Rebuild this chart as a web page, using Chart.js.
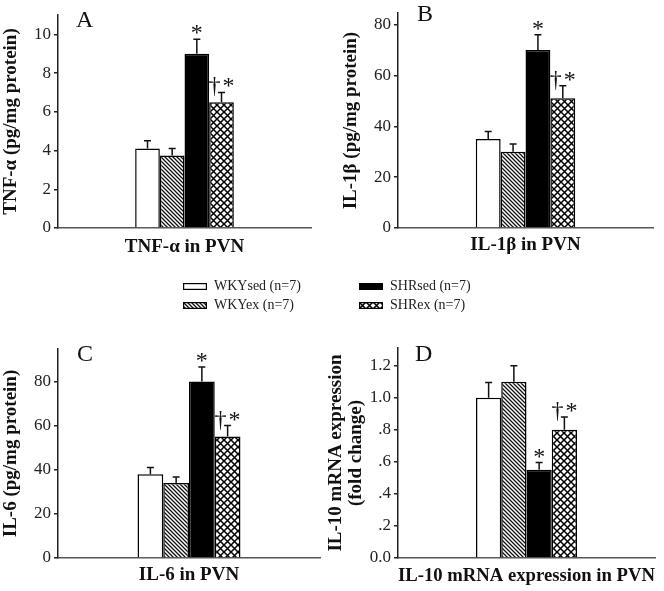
<!DOCTYPE html>
<html>
<head>
<meta charset="utf-8">
<script src="https://cdn.jsdelivr.net/npm/chart.js@4.4.1/dist/chart.umd.min.js"></script>
<style>
  html, body { margin: 0; padding: 0; background: #fff; }
  body { width: 664px; height: 591px; position: relative; overflow: hidden; }
  .panel { position: absolute; }
  #legend { position: absolute; left: 0; top: 0; width: 664px; height: 591px; pointer-events: none; z-index: 5;
            font-family: 'Liberation Serif', 'Times New Roman', serif; font-size: 14px; color: #222; }
  .lg { position: absolute; display: flex; align-items: center; white-space: nowrap; }
  .lg canvas { margin-right: 7px; }
</style>
</head>
<body>
<div class="panel" style="left:0;top:0;"><canvas id="cA" width="330" height="262"></canvas></div>
<div class="panel" style="left:330px;top:0;"><canvas id="cB" width="334" height="262"></canvas></div>
<div class="panel" style="left:0;top:300px;"><canvas id="cC" width="330" height="291"></canvas></div>
<div class="panel" style="left:326px;top:300px;"><canvas id="cD" width="338" height="291"></canvas></div>
<div id="legend"></div>
<script>
// ---------------- DATA ----------------
const categories = ['PVN'];
const groups = ['WKYsed (n=7)', 'WKYex (n=7)', 'SHRsed (n=7)', 'SHRex (n=7)'];

const tnfValues = [4.1, 3.75, 9.0, 6.5];
const tnfErrors = [0.4, 0.35, 0.75, 0.5];
const tnfMarks  = ['', '', '*', '†*'];
const tnfTicks  = [0, 2, 4, 6, 8, 10];

const il1bValues = [35, 30, 70, 51];
const il1bErrors = [3, 3, 6, 5];
const il1bMarks  = ['', '', '*', '†*'];
const il1bTicks  = [0, 20, 40, 60, 80];

const il6Values = [38, 34, 80, 55];
const il6Errors = [3, 2.7, 6.5, 5];
const il6Marks  = ['', '', '*', '†*'];
const il6Ticks  = [0, 20, 40, 60, 80];

const il10Values = [1.0, 1.1, 0.55, 0.8];
const il10Errors = [0.095, 0.1, 0.045, 0.08];
const il10Marks  = ['', '', '*', '†*'];
const il10Ticks  = [0, 0.2, 0.4, 0.6, 0.8, 1.0, 1.2];
const il10TickLabels = ['0.0', '.2', '.4', '.6', '.8', '1.0', '1.2'];

// ---------------- STYLE ----------------
const SERIF = "'Liberation Serif', 'Times New Roman', serif";

function hatchPattern() {
  const c = document.createElement('canvas'); c.width = 4; c.height = 4;
  const g = c.getContext('2d');
  g.fillStyle = '#fff'; g.fillRect(0, 0, 4, 4);
  g.strokeStyle = '#111'; g.lineWidth = 1.3;
  g.beginPath();
  g.moveTo(-1, -1); g.lineTo(5, 5);
  g.moveTo(3, -1); g.lineTo(5, 1);
  g.moveTo(-1, 3); g.lineTo(1, 5);
  g.stroke();
  return g.createPattern(c, 'repeat');
}
function crossPattern() {
  const n = 7;
  const c = document.createElement('canvas'); c.width = n; c.height = n;
  const g = c.getContext('2d');
  g.fillStyle = '#fff'; g.fillRect(0, 0, n, n);
  g.strokeStyle = '#000'; g.lineWidth = 1.5;
  g.beginPath();
  g.moveTo(-1, -1); g.lineTo(n + 1, n + 1);
  g.moveTo(n + 1, -1); g.lineTo(-1, n + 1);
  g.stroke();
  return g.createPattern(c, 'repeat');
}
const fills = [() => '#ffffff', hatchPattern, () => '#000000', crossPattern];

// ---------------- PLUGIN: error bars, marks, panel letter ----------------
const extrasPlugin = {
  id: 'extras',
  afterDatasetsDraw(chart) {
    const o = chart.options.plugins.extras;
    const ctx = chart.ctx;
    const y = chart.scales.y;
    ctx.save();
    chart.data.datasets.forEach((ds, i) => {
      const bar = chart.getDatasetMeta(i).data[0];
      const v = ds.data[0];
      const top = y.getPixelForValue(v);
      const cap = y.getPixelForValue(v + o.errors[i]);
      ctx.strokeStyle = '#111';
      ctx.lineWidth = 1.5;
      ctx.beginPath();
      ctx.moveTo(bar.x, top); ctx.lineTo(bar.x, cap);
      ctx.moveTo(bar.x - 3.5, cap); ctx.lineTo(bar.x + 3.5, cap);
      ctx.stroke();
      if (o.marks[i]) {
        ctx.fillStyle = '#111';
        ctx.font = '24px ' + SERIF;
        ctx.textAlign = 'center';
        ctx.textBaseline = 'alphabetic';
        ctx.letterSpacing = '2px';
        ctx.fillText(o.marks[i], bar.x + 1, cap + 1);
        ctx.letterSpacing = '0px';
      }
    });
    const ca = chart.chartArea;
    ctx.fillStyle = '#111';
    ctx.font = '24px ' + SERIF;
    ctx.textAlign = 'left';
    ctx.textBaseline = 'alphabetic';
    ctx.fillText(o.letter, ca.left + o.letterDx, ca.top + o.letterDy);
    ctx.restore();
  }
};

function makePanel(id, p) {
  const canvas = document.getElementById(id);
  const H = canvas.height;
  return new Chart(canvas, {
    type: 'bar',
    data: {
      labels: categories,
      datasets: groups.map((g, i) => ({
        label: g,
        data: [p.values[i]],
        backgroundColor: fills[i](),
        borderColor: '#000',
        borderWidth: 1.5,
        borderSkipped: 'start'
      }))
    },
    options: {
      responsive: false,
      animation: false,
      devicePixelRatio: 1,
      layout: { padding: { top: p.top, right: p.right, left: 0, bottom: 0 } },
      datasets: { bar: { categoryPercentage: p.catPct, barPercentage: 1.0 } },
      plugins: {
        legend: { display: false },
        tooltip: { enabled: false },
        extras: { errors: p.errors, marks: p.marks, letter: p.letter, letterDx: p.letterDx, letterDy: p.letterDy }
      },
      scales: {
        x: {
          type: 'category',
          offset: true,
          grid: { display: false },
          border: { display: true, color: '#555', width: 1.5 },
          ticks: { display: false },
          title: {
            display: true, text: p.xTitle, color: '#111',
            font: { family: SERIF, size: 19, weight: 'bold' },
            padding: { top: 0, bottom: p.xTitlePad }
          },
          afterFit(s) { s.height = H - p.bottom; }
        },
        y: {
          min: 0, max: p.max,
          afterBuildTicks(s) { s.ticks = p.ticks.map(v => ({ value: v })); },
          grid: { drawOnChartArea: false, drawTicks: true, tickLength: 4, color: '#222', lineWidth: 1.5 },
          border: { display: true, color: '#222', width: 1.5 },
          ticks: {
            color: '#222', padding: 3,
            font: { family: SERIF, size: 17 },
            callback: (v, idx) => p.tickLabels ? p.tickLabels[idx] : String(v)
          },
          title: {
            display: true, text: p.yTitle, color: '#111',
            font: { family: SERIF, size: 19, weight: 'bold', lineHeight: 1.05 },
            padding: { top: p.yTitlePad, bottom: 0 }
          },
          afterFit(s) { s.width = p.axisX; }
        }
      }
    },
    plugins: [extrasPlugin]
  });
}

makePanel('cA', { values: tnfValues, errors: tnfErrors, marks: tnfMarks, ticks: tnfTicks, max: 11,
  yTitle: 'TNF-α (pg/mg protein)', xTitle: 'TNF-α in PVN', letter: 'A',
  top: 15, bottom: 228, right: 19, axisX: 58, catPct: 0.39, xTitlePad: 4, yTitlePad: 1,
  letterDx: 18, letterDy: 12 });

makePanel('cB', { values: il1bValues, errors: il1bErrors, marks: il1bMarks, ticks: il1bTicks, max: 84.5,
  yTitle: 'IL-1β (pg/mg protein)', xTitle: 'IL-1β in PVN', letter: 'B',
  top: 13, bottom: 228, right: 11, axisX: 68, catPct: 0.39, xTitlePad: 6, yTitlePad: 11,
  letterDx: 19, letterDy: 8 });

makePanel('cC', { values: il6Values, errors: il6Errors, marks: il6Marks, ticks: il6Ticks, max: 94.7,
  yTitle: 'IL-6 (pg/mg protein)', xTitle: 'IL-6 in PVN', letter: 'C',
  top: 49, bottom: 258, right: 10, axisX: 58, catPct: 0.393, xTitlePad: 5, yTitlePad: 1,
  letterDx: 19, letterDy: 12 });

makePanel('cD', { values: il10Values, errors: il10Errors, marks: il10Marks, ticks: il10Ticks,
  tickLabels: il10TickLabels, max: 1.31,
  yTitle: ['IL-10 mRNA expression', '(fold change)'], xTitle: 'IL-10 mRNA expression in PVN', letter: 'D',
  top: 48, bottom: 258, right: 9, axisX: 72, catPct: 0.393, xTitlePad: 4, yTitlePad: 0,
  letterDx: 17, letterDy: 13 });

// ---------------- LEGEND ----------------
const legendPos = [[183, 286], [183, 305], [359, 286], [359, 305]];
const legendEl = document.getElementById('legend');
groups.forEach((g, i) => {
  const item = document.createElement('div');
  item.className = 'lg';
  item.style.left = legendPos[i][0] + 'px';
  item.style.top = (legendPos[i][1] - 9) + 'px';
  item.style.height = '18px';
  const sw = document.createElement('canvas');
  sw.width = 24; sw.height = 7;
  const g2 = sw.getContext('2d');
  g2.fillStyle = fills[i]();
  g2.fillRect(0, 0, 24, 7);
  g2.strokeStyle = '#000'; g2.lineWidth = 1.2;
  g2.strokeRect(0.6, 0.6, 22.8, 5.8);
  item.appendChild(sw);
  const t = document.createElement('span');
  t.textContent = g;
  item.appendChild(t);
  legendEl.appendChild(item);
});
</script>
</body>
</html>
